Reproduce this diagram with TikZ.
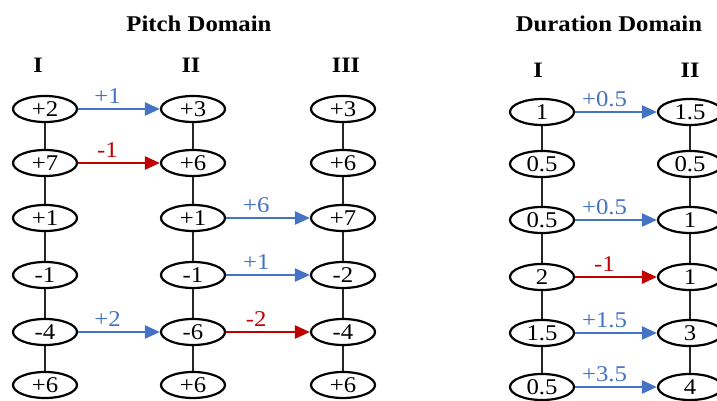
\documentclass[tikz,border=0pt]{standalone}
\usepackage{fontspec}
\setmainfont[FakeStretch=1.1]{Liberation Serif}
\usetikzlibrary{arrows.meta,shapes.geometric}
\definecolor{myblue}{RGB}{68,114,196}
\definecolor{myred}{RGB}{192,0,0}
\begin{document}
\begin{tikzpicture}[x=1pt,y=-1pt,
  nd/.style={ellipse, draw=black, line width=2.2pt, minimum width=64pt, minimum height=26pt, inner sep=0pt, font=\fontsize{22.5}{22.5}\selectfont},
  link/.style={line width=1.2pt, draw=black!85},
  barr/.style={draw=myblue, line width=2.4pt, -{Triangle[length=15pt,width=13pt]}},
  rarr/.style={draw=myred, line width=2.4pt, -{Triangle[length=15pt,width=13pt]}},
  lab/.style={font=\fontsize{22.5}{22.5}\selectfont, above=3pt, inner sep=1pt, pos=0.36},
  ttl/.style={font=\fontsize{22.5}{22.5}\selectfont\bfseries},
  hdr/.style={font=\fontsize{22}{22}\selectfont\bfseries}
  ]
\useasboundingbox (0,0) rectangle (717,401);
\clip (0,0) rectangle (717,401);

% titles
\node[ttl] (tp) at (199,24) {Pitch Domain};
\node[ttl] (td) at (609,24) {Duration Domain};
\node[hdr] (hp1) at (38,65) {I};
\node[hdr] (hp2) at (191,65) {II};
\node[hdr] (hp3) at (346,65) {III};
\node[hdr] (hd1) at (538,70) {I};
\node[hdr] (hd2) at (690,70) {II};

% Pitch column I
\node[nd] (a1) at (45,109) {+2};
\node[nd] (a2) at (45,163) {+7};
\node[nd] (a3) at (45,218) {+1};
\node[nd] (a4) at (45,275) {-1};
\node[nd] (a5) at (45,332) {-4};
\node[nd] (a6) at (45,385) {+6};
% Pitch column II
\node[nd] (b1) at (193,109) {+3};
\node[nd] (b2) at (193,163) {+6};
\node[nd] (b3) at (193,218) {+1};
\node[nd] (b4) at (193,275) {-1};
\node[nd] (b5) at (193,332) {-6};
\node[nd] (b6) at (193,385) {+6};
% Pitch column III
\node[nd] (c1) at (343,109) {+3};
\node[nd] (c2) at (343,163) {+6};
\node[nd] (c3) at (343,218) {+7};
\node[nd] (c4) at (343,275) {-2};
\node[nd] (c5) at (343,332) {-4};
\node[nd] (c6) at (343,385) {+6};

% Duration column I
\node[nd] (d1) at (542,112) {1};
\node[nd] (d2) at (542,164) {0.5};
\node[nd] (d3) at (542,220) {0.5};
\node[nd] (d4) at (542,277) {2};
\node[nd] (d5) at (542,333) {1.5};
\node[nd] (d6) at (542,387) {0.5};
% Duration column II
\node[nd] (e1) at (690,112) {1.5};
\node[nd] (e2) at (690,164) {0.5};
\node[nd] (e3) at (690,220) {1};
\node[nd] (e4) at (690,277) {1};
\node[nd] (e5) at (690,333) {3};
\node[nd] (e6) at (690,387) {4};

% vertical links
\foreach \c in {a,b,c,d,e}{
  \draw[link] (\c1) -- (\c2);
  \draw[link] (\c2) -- (\c3);
  \draw[link] (\c3) -- (\c4);
  \draw[link] (\c4) -- (\c5);
  \draw[link] (\c5) -- (\c6);
}

% pitch arrows
\draw[barr] (a1) -- (b1) node[lab, text=myblue] {+1};
\draw[rarr] (a2) -- (b2) node[lab, text=myred] {-1};
\draw[barr] (b3) -- (c3) node[lab, text=myblue] {+6};
\draw[barr] (b4) -- (c4) node[lab, text=myblue] {+1};
\draw[barr] (a5) -- (b5) node[lab, text=myblue] {+2};
\draw[rarr] (b5) -- (c5) node[lab, text=myred] {-2};

% duration arrows
\draw[barr] (d1) -- (e1) node[lab, text=myblue] {+0.5};
\draw[barr] (d3) -- (e3) node[lab, text=myblue] {+0.5};
\draw[rarr] (d4) -- (e4) node[lab, text=myred] {-1};
\draw[barr] (d5) -- (e5) node[lab, text=myblue] {+1.5};
\draw[barr] (d6) -- (e6) node[lab, text=myblue] {+3.5};
\end{tikzpicture}
\end{document}
